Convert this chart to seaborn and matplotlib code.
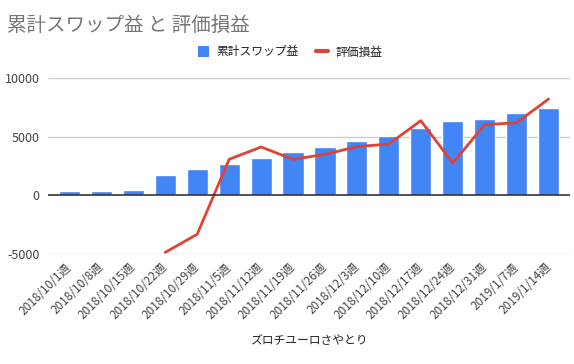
import numpy as np
import pandas as pd
import matplotlib.pyplot as plt
import seaborn as sns
from matplotlib.patches import Patch
from matplotlib.lines import Line2D

# --- データ ---
weeks = ["2018/10/1週", "2018/10/8週", "2018/10/15週", "2018/10/22週",
         "2018/10/29週", "2018/11/5週", "2018/11/12週", "2018/11/19週",
         "2018/11/26週", "2018/12/3週", "2018/12/10週", "2018/12/17週",
         "2018/12/24週", "2018/12/31週", "2019/1/7週", "2019/1/14週"]
swap_total = [340, 340, 430, 1700, 2210, 2640, 3150, 3660,
              4090, 4600, 5030, 5710, 6300, 6480, 6990, 7410]
unrealized = [np.nan, np.nan, np.nan, -4860, -3320, 3070, 4120, 3070,
              3490, 4150, 4370, 6360, 2750, 6020, 6190, 8210]

BLUE = "#4285F4"
RED = "#DB4437"

df = pd.DataFrame({"week": weeks, "swap": swap_total, "pl": unrealized})
df["idx"] = np.arange(len(df))

sns.set_theme(style="white")
plt.rcParams["font.family"] = ["Noto Sans CJK JP", "DejaVu Sans"]

fig = plt.figure(figsize=(5.74, 3.64), dpi=100)
ax = fig.add_axes([48 / 574, 1 - 254 / 364, (570 - 48) / 574, (254 - 78) / 364])

# グリッド
for v in [-5000, 5000, 10000]:
    ax.axhline(v, color="#cccccc", lw=1, zorder=0)

sns.barplot(data=df, x="week", y="swap", color=BLUE, width=0.66,
            saturation=1, ax=ax, zorder=2)
ax.plot(df["idx"], df["pl"], color=RED, lw=2, zorder=3)
ax.axhline(0, color="#333333", lw=1.2, zorder=4)

ax.set_ylim(-5000, 10000)
ax.set_xlim(-0.67, 15.67)
ax.set_yticks([-5000, 0, 5000, 10000])
ax.set_yticklabels(["-5000", "0", "5000", "10000"])
ax.tick_params(axis="y", length=0, pad=6, labelsize=9, labelcolor="#444444")
ax.tick_params(axis="x", length=0, pad=8, labelsize=8.5, labelcolor="#444444")
plt.setp(ax.get_xticklabels(), rotation=45, ha="right", va="center",
         rotation_mode="anchor")
for s in ax.spines.values():
    s.set_visible(False)
ax.set_ylabel("")
ax.set_xlabel("ズロチユーロさやとり", fontsize=8.5, color="#222222", labelpad=9)

fig.text(7 / 574, 1 - 25 / 364, "累計スワップ益 と 評価損益", fontsize=14,
         color="#757575", va="center", ha="left")

handles = [Patch(facecolor=BLUE, edgecolor="none"),
           Line2D([0], [0], color=RED, lw=3)]
fig.legend(handles, ["累計スワップ益", "評価損益"], loc="center",
           bbox_to_anchor=(290 / 574, 1 - 52 / 364), ncol=2, frameon=False,
           fontsize=8.5, handlelength=1.0, handleheight=1.0,
           columnspacing=1.5, handletextpad=0.6, labelcolor="#222222")

fig.savefig("out.png", dpi=100)
